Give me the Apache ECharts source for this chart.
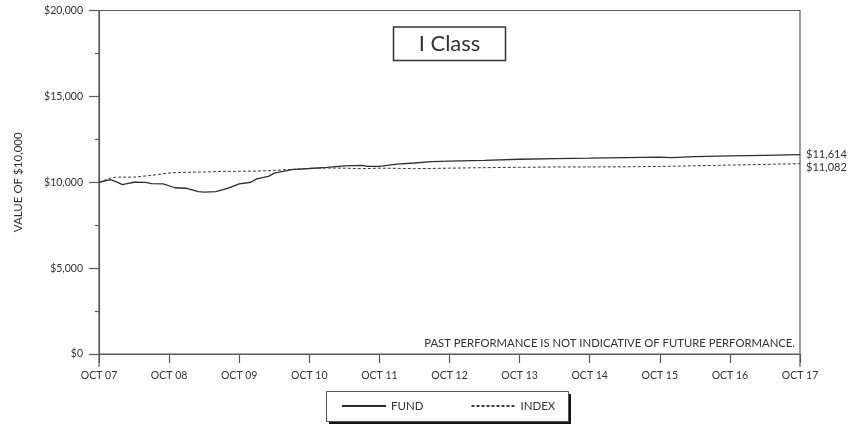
<!DOCTYPE html>
<html>
<head>
<meta charset="utf-8">
<script src="https://cdn.jsdelivr.net/npm/echarts@6/dist/echarts.min.js"></script>
<style>
  html, body { margin: 0; padding: 0; background: #fff; }
  #chart { width: 865px; height: 425px; }
</style>
</head>
<body>
<div id="chart"></div>
<script>
// Growth of $10,000 — I Class vs. index, Oct 2007 to Oct 2017
// x values are months since OCT 07
var tickLabels = ['OCT 07', 'OCT 08', 'OCT 09', 'OCT 10', 'OCT 11', 'OCT 12',
                  'OCT 13', 'OCT 14', 'OCT 15', 'OCT 16', 'OCT 17'];

var fundMonths = [0, 2, 3, 4, 5, 6, 8, 9, 11, 13, 15, 17, 18, 20, 22, 24, 26, 27, 29, 30,
                  33, 36, 39, 42, 45, 46, 48, 51, 54, 57, 60, 66, 72, 78, 84, 90, 96, 98,
                  102, 108, 114, 120];
var fundValues = [10000, 10150, 10020, 9860, 9930, 10000, 9990, 9920, 9900, 9680, 9650, 9460,
                  9420, 9460, 9640, 9900, 10000, 10200, 10340, 10530, 10740, 10800, 10870,
                  10950, 10980, 10920, 10930, 11050, 11120, 11200, 11230, 11270, 11340, 11380,
                  11400, 11430, 11460, 11430, 11490, 11530, 11570, 11614];

var indexMonths = [0, 2, 3, 6, 9, 12, 15, 18, 21, 24, 27, 30, 33, 36, 39, 42, 45, 48, 51, 54,
                   60, 66, 72, 78, 84, 90, 96, 102, 108, 114, 120];
var indexValues = [10000, 10250, 10300, 10300, 10400, 10540, 10580, 10600, 10630, 10640, 10650,
                   10690, 10750, 10800, 10830, 10820, 10790, 10820, 10810, 10790, 10820, 10850,
                   10870, 10890, 10890, 10900, 10920, 10960, 11000, 11040, 11082];

function pairs(xs, ys) {
  return xs.map(function (x, i) { return [x, ys[i]]; });
}
function dollars(v) {
  return '$' + Math.round(v).toString().replace(/\B(?=(\d{3})+(?!\d))/g, ',');
}

var FONT = 'Lato';
var INK = '#333';
var AXIS = '#5a5a5a';

// legend frame (drop shadow drawn as a separate offset rect)
var LEG = { x: 326, y: 391, w: 242, h: 30 };

var chart = echarts.init(document.getElementById('chart'), null, { renderer: 'canvas' });

var option = {
  animation: false,
  backgroundColor: '#fff',
  textStyle: { fontFamily: FONT, color: INK },
  grid: {
    left: 99, right: 65, top: 10.5, bottom: 71,
    show: true, borderColor: AXIS, borderWidth: 1.2, backgroundColor: 'transparent'
  },
  xAxis: {
    type: 'value', min: 0, max: 120, interval: 12,
    axisLine: { show: true, lineStyle: { color: AXIS, width: 1.2 } },
    axisTick: { show: true, length: 9, lineStyle: { color: AXIS, width: 1.2 } },
    splitLine: { show: false },
    axisLabel: {
      margin: 16, fontSize: 10.5, color: INK, fontFamily: FONT,
      formatter: function (v) { return tickLabels[Math.round(v / 12)] || ''; }
    }
  },
  yAxis: {
    type: 'value', min: 0, max: 20000, interval: 5000,
    name: 'VALUE OF $10,000', nameLocation: 'middle', nameGap: 75,
    nameTextStyle: { fontSize: 11.5, color: INK, fontFamily: FONT },
    axisLine: { show: true, lineStyle: { color: AXIS, width: 1.2 } },
    axisTick: { show: true, length: 10, lineStyle: { color: AXIS, width: 1.2 } },
    minorTick: { show: true, splitNumber: 2, length: 4, lineStyle: { color: AXIS, width: 1.2 } },
    splitLine: { show: false },
    axisLabel: { margin: 16, fontSize: 10.5, color: INK, fontFamily: FONT, formatter: dollars }
  },
  legend: {
    show: true, orient: 'horizontal', left: LEG.x, top: LEG.y, z: 20,
    padding: [8, 16, 8, 15], itemGap: 47,
    itemWidth: 44, itemHeight: 10,
    backgroundColor: 'transparent', borderWidth: 0,
    textStyle: { fontSize: 11.5, lineHeight: 14, color: INK, fontFamily: FONT },
    itemStyle: { opacity: 0 },
    data: ['FUND', 'INDEX']
  },
  series: [
    {
      name: 'FUND', type: 'line', data: pairs(fundMonths, fundValues),
      showSymbol: false, symbol: 'none',
      lineStyle: { color: '#2e2e2e', width: 1.3 },
      itemStyle: { color: '#2e2e2e' },
      endLabel: {
        show: true, distance: 6, fontSize: 11, color: INK, fontFamily: FONT,
        formatter: function (p) { return dollars(p.value[1]); }
      }
    },
    {
      name: 'INDEX', type: 'line', data: pairs(indexMonths, indexValues),
      showSymbol: false, symbol: 'none',
      lineStyle: { color: '#3a3a3a', width: 1, type: [3, 2] },
      itemStyle: { color: '#3a3a3a' },
      endLabel: {
        show: true, distance: 6, offset: [0, 4], fontSize: 11, color: INK, fontFamily: FONT,
        formatter: function (p) { return dollars(p.value[1]); }
      }
    }
  ]
};
chart.setOption(option);

// Frame extensions below the x axis, title box, legend frame and disclaimer
var xL = chart.convertToPixel({ xAxisIndex: 0 }, 0);
var xR = chart.convertToPixel({ xAxisIndex: 0 }, 120);
var y0 = chart.convertToPixel({ yAxisIndex: 0 }, 0);
var xMid = (xL + xR) / 2;

chart.setOption({
  graphic: [
    { type: 'line', shape: { x1: xL, y1: y0, x2: xL, y2: y0 + 13 }, style: { stroke: AXIS, lineWidth: 1.2 }, silent: true },
    { type: 'line', shape: { x1: xR, y1: y0, x2: xR, y2: y0 + 13 }, style: { stroke: AXIS, lineWidth: 1.2 }, silent: true },
    {
      type: 'rect', shape: { x: xMid - 56, y: 27, width: 112, height: 33.5 },
      style: { fill: '#fff', stroke: '#333', lineWidth: 1.5 }, z: 10
    },
    {
      type: 'text', x: xMid, y: 44, z: 11,
      style: { text: 'I Class', fontFamily: FONT, fontSize: 22, fill: '#333', align: 'center', verticalAlign: 'middle' }
    },
    {
      type: 'rect', shape: { x: LEG.x + 3, y: LEG.y + 3, width: LEG.w, height: LEG.h },
      style: { fill: '#151515' }, z: 5
    },
    {
      type: 'rect', shape: { x: LEG.x + 0.5, y: LEG.y + 0.5, width: LEG.w, height: LEG.h },
      style: { fill: '#fff', stroke: '#555', lineWidth: 1 }, z: 6
    },
    {
      type: 'text', x: xR - 5, y: y0 - 11, z: 11,
      style: { text: 'PAST PERFORMANCE IS NOT INDICATIVE OF FUTURE PERFORMANCE.', fontFamily: FONT, fontSize: 11.3, fill: INK, align: 'right', verticalAlign: 'middle' }
    }
  ]
});
</script>
</body>
</html>
